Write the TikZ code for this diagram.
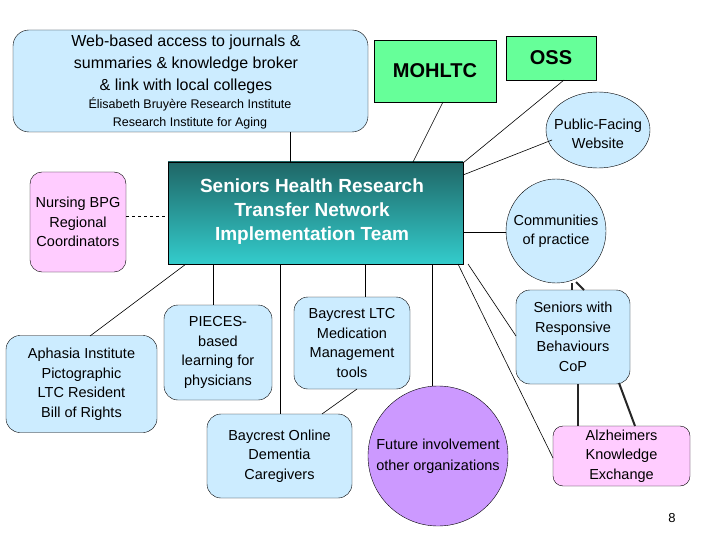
\documentclass[tikz,border=0pt]{standalone}
\usepackage{fontspec}
\setmainfont{Liberation Sans}
\begin{document}
\begin{tikzpicture}[x=1pt,y=-1pt,
  rb/.style={draw=black,rounded corners=14pt,fill=blueL,align=center,font=\fontsize{14.5}{19.5}\selectfont},
  ln/.style={draw=black,line width=0.6pt},
  thick2/.style={draw=black!85,line width=2pt}]
\definecolor{blueL}{HTML}{CCECFF}
\definecolor{pinkL}{HTML}{FFCCFF}
\definecolor{grn}{HTML}{66FF99}
\definecolor{purp}{HTML}{CC99FF}
\definecolor{tealT}{HTML}{1F6666}
\definecolor{tealB}{HTML}{33CCCC}
\useasboundingbox (0,0) rectangle (720,540);
\fill[white] (0,0) rectangle (720,540);
% boxes
\draw[fill=blueL,rounded corners=16pt] (13,30) rectangle (368,132);
\node[align=center,font=\fontsize{16}{22}\selectfont] (webt) at (186,64) {Web-based access to journals \&\\summaries \& knowledge broker\\\& link with local colleges};
\node[align=center,font=\fontsize{12.5}{18}\selectfont] (webs) at (190,113) {Élisabeth Bruyère Research Institute\\Research Institute for Aging};
\coordinate (webb) at (290,132);
\node[draw,fill=grn,minimum width=122,minimum height=62,font=\bfseries\fontsize{20}{22}\selectfont] (moh) at (435,71) {MOHLTC};
\node[draw,fill=grn,minimum width=90,minimum height=44,font=\bfseries\fontsize{20}{22}\selectfont] (oss) at (551,58) {OSS};
\draw[fill=blueL] (598,130) ellipse (52 and 38);
\node[align=center,font=\fontsize{14.5}{19}\selectfont] (pub) at (598,134) {Public-Facing\\Website};
\shade[top color=tealT,bottom color=tealB,draw=black] (168,162) rectangle (463,264);
\node[text=white,align=center,font=\bfseries\fontsize{19}{24}\selectfont] (cen) at (312,212) {Seniors Health Research\\Transfer Network\\Implementation Team};
\node[rb,fill=pinkL,minimum width=96,minimum height=100,rounded corners=12pt] (nur) at (78,222) {Nursing BPG\\Regional\\Coordinators};
\draw[fill=blueL] (556,231) ellipse (50 and 52);
\node[align=center,font=\fontsize{14.5}{19}\selectfont] (com) at (556,231) {Communities\\of practice};
\node[rb,minimum width=151,minimum height=97] (aph) at (81.5,384) {Aphasia Institute\\Pictographic\\LTC Resident\\Bill of Rights};
\node[rb,minimum width=108,minimum height=95] (pie) at (218,352.5) {PIECES-\\based\\learning for\\physicians};
\node[rb,minimum width=116,minimum height=92] (blt) at (352,343) {Baycrest LTC\\Medication\\Management\\tools};
\node[rb,minimum width=145,minimum height=84] (bon) at (279.5,456) {Baycrest Online\\Dementia\\Caregivers};
\node[circle,draw,fill=purp,minimum size=140,align=center,font=\fontsize{14.5}{21}\selectfont] (fut) at (438,456) {Future involvement\\other organizations};
\node[rb,minimum width=114,minimum height=94] (sen) at (573,337) {Seniors with\\Responsive\\Behaviours\\CoP};
\node[rb,fill=pinkL,minimum width=137,minimum height=60,rounded corners=10pt] (alz) at (621.5,456) {Alzheimers\\Knowledge\\Exchange};
\node[font=\fontsize{13}{15}\selectfont] (pg) at (672,518) {8};
% connectors
\coordinate (c1) at (290,162);
\draw[ln] (webb) -- (c1);
\coordinate (mb) at (443,102); \coordinate (c2) at (413,162);
\draw[ln] (mb) -- (c2);
\coordinate (ob) at (564,80); \coordinate (c3) at (463,163);
\draw[ln] (ob) -- (c3);
\coordinate (pl) at (552,140); \coordinate (c4) at (463,175);
\draw[ln] (pl) -- (c4);
\coordinate (cl) at (506,232); \coordinate (c5) at (463,232);
\draw[ln] (cl) -- (c5);
\coordinate (nr) at (126,216); \coordinate (c6) at (168,216);
\draw[ln,dashed] (nr) -- (c6);
\coordinate (c7) at (186,264); \coordinate (at) at (90,336);
\draw[ln] (c7) -- (at);
\coordinate (c8) at (213,264); \coordinate (pt) at (213,305);
\draw[ln] (c8) -- (pt);
\coordinate (c9) at (280,264); \coordinate (bt) at (280,414);
\draw[ln] (c9) -- (bt);
\coordinate (c10) at (365,264); \coordinate (lt) at (365,297);
\draw[ln] (c10) -- (lt);
\coordinate (c11) at (432,264); \coordinate (ft) at (432,386);
\draw[ln] (c11) -- (ft);
\coordinate (c12) at (468,264); \coordinate (sl) at (516,336);
\draw[ln] (c12) -- (sl);
\coordinate (c13) at (458,264); \coordinate (al) at (553,458);
\draw[ln] (c13) -- (al);
\coordinate (lb) at (357,389); \coordinate (bo) at (322,414);
\draw[ln] (lb) -- (bo);
\coordinate (k1) at (572,283); \coordinate (k2) at (572,290);
\coordinate (k3) at (576,282); \coordinate (k4) at (584,290);
\draw[thick2] (k1) -- (k2); \draw[thick2] (k3) -- (k4);
\coordinate (k5) at (578,384); \coordinate (k6) at (578,426);
\coordinate (k7) at (619,383); \coordinate (k8) at (635,426);
\draw[thick2] (k5) -- (k6); \draw[thick2] (k7) -- (k8);
\end{tikzpicture}
\end{document}
